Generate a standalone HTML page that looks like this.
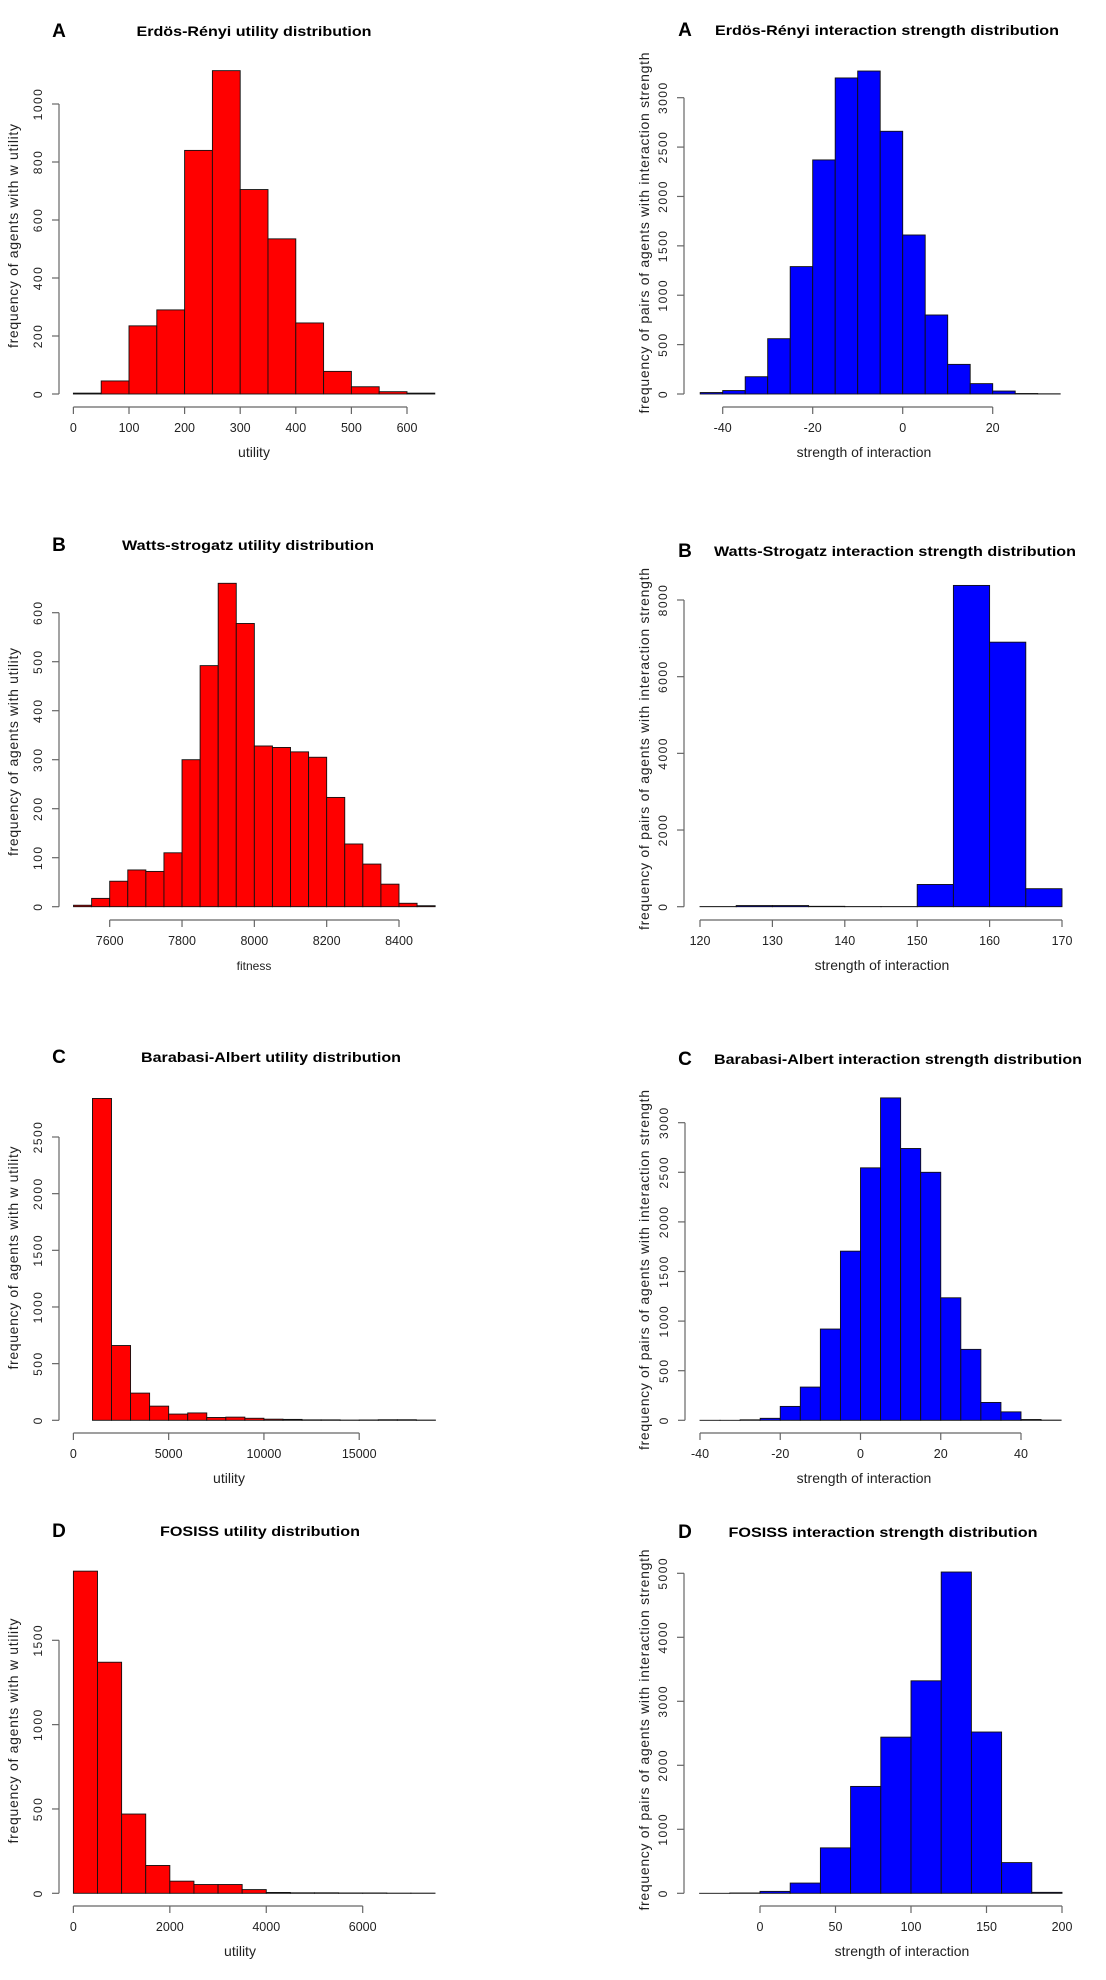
<!DOCTYPE html>
<html><head><meta charset="utf-8"><style>
html,body{margin:0;padding:0;background:#fff;}
svg{display:block;font-family:"Liberation Sans",Arial,sans-serif;}
</style></head><body>
<svg id="fig" width="1106" height="1980" viewBox="0 0 1106 1980" xmlns="http://www.w3.org/2000/svg"></svg>
<script>
// ---- data (counts per histogram bin) ----
const erUtilStart = 0, erUtilWidth = 50;
const erUtilCounts = [3,45,235,290,840,1115,705,535,245,78,25,8,3];
const erUtilYTicks = [0,200,400,600,800,1000];
const erUtilXTicks = [0,100,200,300,400,500,600];

const erIntStart = -45, erIntWidth = 5;
const erIntCounts = [15,35,175,560,1290,2370,3200,3270,2660,1610,800,300,105,30,5,2];
const erIntYTicks = [0,500,1000,1500,2000,2500,3000];
const erIntXTicks = [-40,-20,0,20];

const wsUtilStart = 7500, wsUtilWidth = 50;
const wsUtilCounts = [3,17,52,75,72,110,300,492,660,578,328,325,316,305,223,128,87,46,7,2];
const wsUtilYTicks = [0,100,200,300,400,500,600];
const wsUtilXTicks = [7600,7800,8000,8200,8400];

const wsIntStart = 120, wsIntWidth = 5;
const wsIntCounts = [3,30,30,10,3,3,580,8380,6900,470];
const wsIntYTicks = [0,2000,4000,6000,8000];
const wsIntXTicks = [120,130,140,150,160,170];

const baUtilStart = 1000, baUtilWidth = 1000;
const baUtilCounts = [2840,660,240,125,55,65,25,28,18,10,8,4,4,2,3,5,5,2];
const baUtilYTicks = [0,500,1000,1500,2000,2500];
const baUtilXTicks = [0,5000,10000,15000];

const baIntStart = -40, baIntWidth = 5;
const baIntCounts = [0,0,5,20,140,335,920,1705,2545,3250,2740,2500,1235,715,180,85,8,2];
const baIntYTicks = [0,500,1000,1500,2000,2500,3000];
const baIntXTicks = [-40,-20,0,20,40];

const foUtilStart = 0, foUtilWidth = 500;
const foUtilCounts = [1910,1370,470,165,72,52,52,22,5,3,3,2,2,1,1];
const foUtilYTicks = [0,500,1000,1500];
const foUtilXTicks = [0,2000,4000,6000];

const foIntStart = -40, foIntWidth = 20;
const foIntCounts = [0,5,30,160,710,1670,2440,3320,5020,2520,480,15];
const foIntYTicks = [0,1000,2000,3000,4000,5000];
const foIntXTicks = [0,50,100,150,200];

const svg = document.getElementById('fig');
const NS = 'http://www.w3.org/2000/svg';
function mk(tag, attrs, parent){
  const e = document.createElementNS(NS, tag);
  for (const k in attrs) e.setAttribute(k, attrs[k]);
  (parent||svg).appendChild(e);
  return e;
}

function panel(p){
  const g = mk('g', {});
  
  
  const xs = v => p.xp0 + (v - p.xv0) * (p.xp1 - p.xp0) / (p.xv1 - p.xv0);
  const ys = v => p.yp0 + (v - 0) * (p.yp1 - p.yp0) / p.yv1;
  // letter + title
  const L = mk('text', {x:p.letterX, y:p.titleY+1, 'font-size':19, 'font-weight':'bold', fill:'#000', 'text-anchor':'middle'}, g);
  L.textContent = p.letter;
  
  
  const T = mk('text', {x:p.titleX, y:p.titleY, 'font-size':14, 'font-weight':'bold', fill:'#000', 'text-anchor':'middle', textLength:p.titleW, lengthAdjust:'spacingAndGlyphs'}, g);
  T.textContent = p.title;
  
  
  // bars
  p.counts.forEach((c, i) => {
    const a = p.start + i * p.width, b = a + p.width;
    const x0 = xs(a), x1 = xs(b), y0 = ys(0), y1 = ys(c);
    const r = mk('rect', {x:x0, y:y1, width:x1 - x0, height:Math.max(y0 - y1, 0.01), fill:p.color, stroke:'#111', 'stroke-width':0.9}, g);
    
    
  });
  // y axis
  const ya = mk('line', {x1:p.yAxisX, x2:p.yAxisX, y1:ys(0), y2:ys(p.yTicks[p.yTicks.length-1]), stroke:'#666', 'stroke-width':1.2}, g);
  
  
  p.yTicks.forEach(t => {
    const y = ys(t);
    mk('line', {x1:p.yAxisX - 7, x2:p.yAxisX, y1:y, y2:y, stroke:'#666', 'stroke-width':1.2}, g);
    const tx = p.yAxisX - 17;
    const lb = mk('text', {x:tx, y:y, 'font-size':12, fill:'#222', 'text-anchor':'middle', 'letter-spacing':'1.5', transform:'rotate(-90 '+tx+' '+y+')'}, g);
    lb.textContent = t;
    
    
  });
  const yt = mk('text', {x:p.yTitleX, y:p.yTitleY, 'font-size':14, fill:'#222', 'text-anchor':'middle', textLength:p.yTitleW, lengthAdjust:'spacing', transform:'rotate(-90 '+p.yTitleX+' '+p.yTitleY+')'}, g);
  yt.textContent = p.yTitle;
  
  
  // x axis
  const ay = p.xAxisY;
  const xa = mk('line', {x1:xs(p.xTicks[0]), x2:xs(p.xTicks[p.xTicks.length-1]), y1:ay, y2:ay, stroke:'#666', 'stroke-width':1.2}, g);
  
  
  p.xTicks.forEach(t => {
    const x = xs(t);
    mk('line', {x1:x, x2:x, y1:ay, y2:ay + 7, stroke:'#666', 'stroke-width':1.2}, g);
    const lb = mk('text', {x:x, y:ay + 25, 'font-size':12.5, fill:'#222', 'text-anchor':'middle'}, g);
    lb.textContent = t;
    
    
  });
  const xt = mk('text', {x:p.xTitleX, y:ay + 50, 'font-size':p.xTitleSize || 14, fill:'#222', 'text-anchor':'middle'}, g);
  xt.textContent = p.xTitle;
  
  
}

const red = '#ff0000', blue = '#0000ff';
const yl = 'frequency of agents with w utility';
const yr = 'frequency of pairs of agents with interaction strength';
const xr = 'strength of interaction';

panel({name:'er-utility-histogram', letter:'A', letterX:59, title:'Erdös-Rényi utility distribution', titleX:254, titleY:36, titleW:235,
  counts:erUtilCounts, start:erUtilStart, width:erUtilWidth, color:red, yTicks:erUtilYTicks, xTicks:erUtilXTicks,
  xv0:0, xv1:600, xp0:73.4, xp1:407, yp0:394, yp1:104, yv1:1000, yAxisX:59, xAxisY:407,
  yTitle:yl, yTitleX:18, yTitleY:236, yTitleW:224, xTitle:'utility', xTitleX:254});
panel({name:'er-interaction-histogram', letter:'A', letterX:685, title:'Erdös-Rényi interaction strength distribution', titleX:887, titleY:35, titleW:344,
  counts:erIntCounts, start:erIntStart, width:erIntWidth, color:blue, yTicks:erIntYTicks, xTicks:erIntXTicks,
  xv0:-40, xv1:20, xp0:722.7, xp1:992.7, yp0:394, yp1:97.7, yv1:3000, yAxisX:684, xAxisY:407,
  yTitle:yr, yTitleX:649, yTitleY:233, yTitleW:361, xTitle:xr, xTitleX:864});

panel({name:'ws-utility-histogram', letter:'B', letterX:59, title:'Watts-strogatz utility distribution', titleX:248, titleY:550, titleW:252,
  counts:wsUtilCounts, start:wsUtilStart, width:wsUtilWidth, color:red, yTicks:wsUtilYTicks, xTicks:wsUtilXTicks,
  xv0:7600, xv1:8400, xp0:109.7, xp1:399, yp0:906.7, yp1:612.7, yv1:600, yAxisX:59, xAxisY:920,
  yTitle:'frequency of agents with utility', yTitleX:18, yTitleY:752, yTitleW:208, xTitle:'fitness', xTitleX:254, xTitleSize:12});
panel({name:'ws-interaction-histogram', letter:'B', letterX:685, title:'Watts-Strogatz interaction strength distribution', titleX:895, titleY:556, titleW:362,
  counts:wsIntCounts, start:wsIntStart, width:wsIntWidth, color:blue, yTicks:wsIntYTicks, xTicks:wsIntXTicks,
  xv0:120, xv1:170, xp0:700, xp1:1062, yp0:906.7, yp1:600, yv1:8000, yAxisX:684, xAxisY:920,
  yTitle:yr, yTitleX:649, yTitleY:749, yTitleW:362, xTitle:xr, xTitleX:882});

panel({name:'ba-utility-histogram', letter:'C', letterX:59, title:'Barabasi-Albert utility distribution', titleX:271, titleY:1062, titleW:260,
  counts:baUtilCounts, start:baUtilStart, width:baUtilWidth, color:red, yTicks:baUtilYTicks, xTicks:baUtilXTicks,
  xv0:0, xv1:15000, xp0:73.4, xp1:359.2, yp0:1420.3, yp1:1137, yv1:2500, yAxisX:59, xAxisY:1433,
  yTitle:yl, yTitleX:18, yTitleY:1258, yTitleW:223, xTitle:'utility', xTitleX:229});
panel({name:'ba-interaction-histogram', letter:'C', letterX:685, title:'Barabasi-Albert interaction strength distribution', titleX:898, titleY:1064, titleW:368,
  counts:baIntCounts, start:baIntStart, width:baIntWidth, color:blue, yTicks:baIntYTicks, xTicks:baIntXTicks,
  xv0:-40, xv1:40, xp0:700, xp1:1021, yp0:1420.3, yp1:1122.7, yv1:3000, yAxisX:685, xAxisY:1433,
  yTitle:yr, yTitleX:649, yTitleY:1270, yTitleW:360, xTitle:xr, xTitleX:864});

panel({name:'fosiss-utility-histogram', letter:'D', letterX:59, title:'FOSISS utility distribution', titleX:260, titleY:1536, titleW:200,
  counts:foUtilCounts, start:foUtilStart, width:foUtilWidth, color:red, yTicks:foUtilYTicks, xTicks:foUtilXTicks,
  xv0:0, xv1:6000, xp0:73.4, xp1:362.7, yp0:1893.3, yp1:1640.3, yv1:1500, yAxisX:59, xAxisY:1906,
  yTitle:yl, yTitleX:18, yTitleY:1731, yTitleW:225, xTitle:'utility', xTitleX:240});
panel({name:'fosiss-interaction-histogram', letter:'D', letterX:685, title:'FOSISS interaction strength distribution', titleX:883, titleY:1537, titleW:309,
  counts:foIntCounts, start:foIntStart, width:foIntWidth, color:blue, yTicks:foIntYTicks, xTicks:foIntXTicks,
  xv0:0, xv1:200, xp0:760, xp1:1062, yp0:1893.3, yp1:1573.3, yv1:5000, yAxisX:684, xAxisY:1906,
  yTitle:yr, yTitleX:649, yTitleY:1730, yTitleW:361, xTitle:xr, xTitleX:902});
</script>
</body></html>
